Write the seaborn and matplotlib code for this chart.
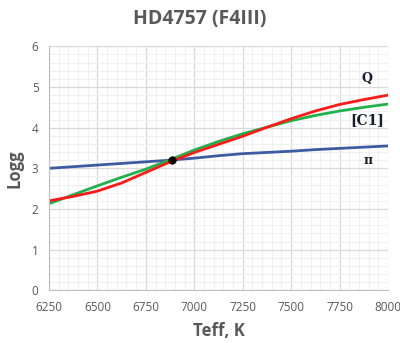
import matplotlib
matplotlib.use("Agg")
import matplotlib.pyplot as plt
import seaborn as sns
import pandas as pd
from matplotlib.ticker import MultipleLocator

teff = [6250, 6375, 6500, 6625, 6750, 6875, 7000, 7125, 7250, 7375, 7500, 7625, 7750, 7875, 8000]
logg_q = [2.20, 2.31, 2.44, 2.64, 2.90, 3.16, 3.39, 3.59, 3.79, 4.01, 4.22, 4.41, 4.57, 4.69, 4.80]
logg_c1 = [2.13, 2.35, 2.57, 2.78, 2.98, 3.21, 3.45, 3.66, 3.85, 4.01, 4.17, 4.30, 4.41, 4.50, 4.58]
logg_pi = [3.00, 3.04, 3.08, 3.12, 3.16, 3.20, 3.25, 3.31, 3.36, 3.39, 3.42, 3.46, 3.49, 3.52, 3.55]
series_names = ["Q", "[C1]", "π"]
series_colors = ["#ff1a1a", "#1fb24a", "#3b5ca0"]
point_teff = [6885]
point_logg = [3.20]
label_pos = [(7890, 5.2), (7895, 4.18), (7895, 3.2)]
label_sizes = [9, 10, 9]
xticks = [6250, 6500, 6750, 7000, 7250, 7500, 7750, 8000]
yticks = [0, 1, 2, 3, 4, 5, 6]

sns.set_style("white")
plt.rcParams['font.family'] = ['Open Sans', 'DejaVu Sans']

df = pd.concat([
    pd.DataFrame({"Teff": teff, "logg": vals, "series": name})
    for name, vals in zip(series_names, [logg_q, logg_c1, logg_pi])
])

fig = plt.figure(figsize=(4.0, 3.43), dpi=100)
ax = fig.add_axes([0.1225, 0.1536, 0.8475, 0.7114])

ax.xaxis.set_minor_locator(MultipleLocator(50))
ax.yaxis.set_minor_locator(MultipleLocator(0.2))
ax.grid(which="minor", color="#f0f0f0", lw=0.8)
ax.grid(which="major", color="#d9d9d9", lw=0.9)
ax.set_axisbelow(True)

order = ["π", "[C1]", "Q"]
pal = dict(zip(series_names, series_colors))
for name in order:
    sns.lineplot(data=df[df.series == name], x="Teff", y="logg", color=pal[name],
                 lw=2.0, ax=ax, legend=False)

sns.scatterplot(x=point_teff, y=point_logg, color="black", s=30, zorder=5, ax=ax,
                edgecolor="black", legend=False)

for name, (lx, ly), fs in zip(series_names, label_pos, label_sizes):
    ax.text(lx, ly, name, ha="center", va="center", fontsize=fs, fontweight="bold",
            color="#1a1a2e", family=["DejaVu Serif"])

ax.set_xlim(6250, 8000)
ax.set_ylim(0, 6)
ax.set_xticks(xticks)
ax.set_yticks(yticks)
ax.tick_params(axis="both", which="major", labelsize=8.5, labelcolor="#595959",
               length=4, color="#bfbfbf", direction="out", width=0.8)
ax.tick_params(axis="both", which="minor", length=0)
for s in ["top", "right"]:
    ax.spines[s].set_visible(False)
for s in ["left", "bottom"]:
    ax.spines[s].set_color("#bfbfbf")
    ax.spines[s].set_linewidth(0.8)

ax.set_xlabel("Teff, K", fontsize=12, fontweight="bold", color="#595959", labelpad=6)
ax.set_ylabel("Logg", fontsize=12, fontweight="bold", color="#595959", labelpad=6)
fig.suptitle("HD4757 (F4III)", x=0.5, y=0.975, fontsize=14, fontweight="bold",
             color="#595959")

fig.savefig("out.png", dpi=100)
